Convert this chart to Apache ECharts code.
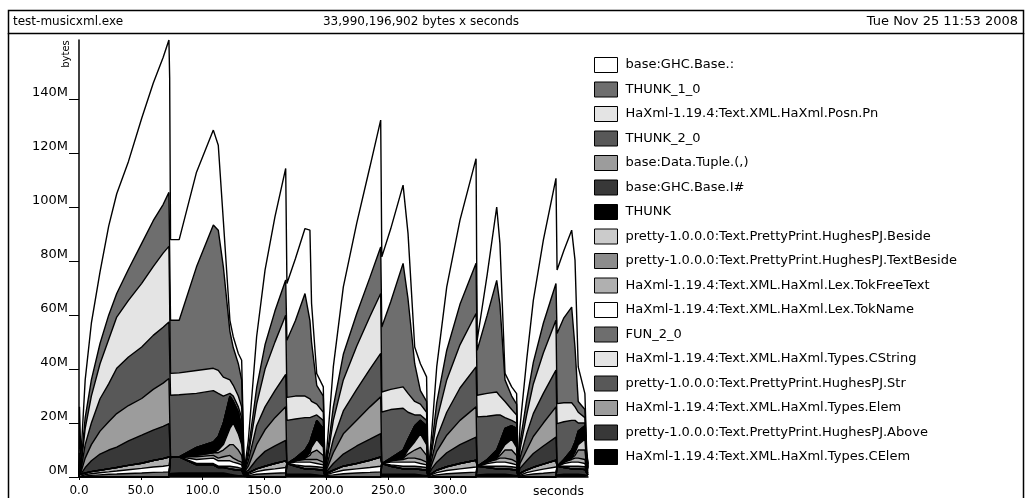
<!DOCTYPE html>
<html>
<head>
<meta charset="utf-8">
<script src="https://cdn.jsdelivr.net/npm/echarts@6/dist/echarts.min.js"></script>
<style>
html,body{margin:0;padding:0;background:#fff;}
#c{width:1031px;height:498px;}
</style>
</head>
<body>
<div id="c"></div>
<script>
// sample times (seconds)
const times = [0, 0.4, 1.5, 5, 10, 17, 24, 30.5, 40, 50.7, 60, 68, 72.7, 73.3,
  74, 81, 95, 108.6, 112.6, 116.7, 122, 124.7, 128.8, 131.5, 133.6,
  136.9, 143.6, 150.4, 158.4, 167.1,
  168.1, 175, 182.7, 186.7, 188, 192.2, 197.5, 198.9,
  199.8, 205.6, 213.7, 224.5, 235.2, 243.9,
  244.8, 252, 262, 266, 271.4, 276, 281, 282.3,
  285.1, 289.2, 297.3, 308, 321,
  321.9, 330, 337.7, 340.3, 344.4, 349.8, 353.8, 355.1,
  356.5, 361.9, 367.3, 375.4, 385.6,
  386.5, 392, 398.3, 401, 403.6, 409, 410.4, 411.5];

// band sizes in millions of bytes, one array per cost centre
const ghcBaseCons = [0, 17, 2.8, 14, 21, 26.5, 33, 37, 40, 46.4, 51, 54.5, 56.5, 42.5,
  29.9, 29.9, 35.1, 35.2, 31.5, 17.1, 4.1, 4, 3.8, 7.3, 0.2,
  3.6, 19, 27.7, 34.9, 41.4,
  21, 23, 24.1, 33.5, 14.4, 4.3, 3.4, 0.1,
  0.2, 14.8, 25, 33.5, 41, 47,
  26, 27, 29, 24.3, 6.2, 10, 9.1, 0.1,
  4.6, 13.3, 23.5, 31.2, 38.8,
  3.7, 15, 27.2, 22.6, 2.4, 3.4, 3.9, 0.3,
  6, 14.8, 23, 30.8, 39,
  23.5, 25, 28.5, 32.4, 12.8, 5.9, 0.9, 0.2];
const thunk10 = [0, 3, 1, 4, 6, 7.5, 9, 8.7, 11.5, 14.8, 17, 18, 20, 20,
  19.7, 19.5, 38.4, 53.1, 52, 40.9, 18, 14, 12, 10, 0.1,
  2, 6, 9, 11.5, 13,
  21.2, 28, 38, 29, 22, 7, 6, 0.1,
  0.3, 5, 9.5, 12, 14.5, 17.3,
  24.1, 32.5, 45.8, 35, 14, 5, 4, 0.05,
  2.5, 6.5, 11, 15, 18.6,
  16.7, 29, 41.4, 34, 8, 5, 4, 0.05,
  2.5, 5.5, 8, 11, 13.6,
  26, 31.5, 35.5, 22, 4, 3, 1, 0.4];
const posnPn = [0, 1.5, 0.8, 6, 10, 13, 16.5, 19, 21, 23.6, 25.5, 27.5, 28, 28,
  8.1, 8.1, 8.5, 8.3, 8.5, 7, 5, 4, 4, 4, 0.1,
  2, 8, 14, 18, 22,
  8.5, 8.5, 8, 7, 6, 4, 3, 0.1,
  0.3, 7, 11.5, 16, 19.5, 22.2,
  7.4, 7.5, 7.9, 7, 5, 4, 3, 0.05,
  2.5, 6.5, 12, 16, 19.8,
  8, 8.5, 8.5, 7, 6, 4, 3, 0.05,
  3, 7, 11, 15, 18.5,
  7.4, 7, 6.5, 5, 4, 2, 1, 0.4];
const thunk20 = [0, 1.5, 0.8, 5, 8, 12, 14, 16.8, 18, 19.1, 20, 20.7, 21, 21,
  22.9, 23, 20, 19, 16, 10, 1, 2, 2, 4, 0.1,
  2, 7, 8.5, 10, 12,
  16, 14.5, 12, 9, 7, 2, 3, 0.1,
  0.2, 5, 8.5, 11.5, 14, 16.1,
  19.1, 18, 15.5, 10, 4, 2, 2, 0.1,
  2, 5, 8.5, 12, 14.8,
  18.3, 16, 13, 10, 4, 2, 2, 0.1,
  2, 6, 8.5, 11, 13.6,
  15.8, 14, 11, 8, 3, 1, 1, 0.5];
const tuple = [0, 1, 0.6, 3.5, 6, 8.5, 10.5, 12.4, 13.1, 13.6, 15.1, 16, 16.7, 16.7,
  0, 0, 0, 0, 0, 0, 0, 0, 0, 0, 0,
  1.5, 5.5, 8, 10.5, 12.4,
  0, 0, 0, 0, 0, 0, 0, 0,
  0.2, 4, 7.5, 9.5, 12, 13.6,
  0, 0, 0, 0, 0, 0, 0, 0,
  1.5, 4, 6.5, 9, 11.2,
  0, 0, 0, 0, 0, 0, 0, 0,
  1.8, 4, 6.3, 8.5, 11.2,
  0, 0, 0, 0, 0, 0, 0, 0];
const intHash = [0, 1.1, 0.4, 2, 4, 6, 7, 7.6, 9.1, 10.4, 11.3, 12, 12.4, 12.4,
  0, 0, 0, 0, 0, 0, 0, 0, 0, 0, 0,
  1, 3.5, 5.5, 6.5, 7.6,
  0, 0, 0, 0, 0, 0, 0, 0,
  0.2, 2.5, 4.5, 6.5, 7.8, 8.7,
  0, 0, 0, 0, 0, 0, 0, 0,
  1.7, 3, 5.2, 7, 8.6,
  0, 0, 0, 0, 0, 0, 0, 0,
  1.8, 3.4, 5.1, 6.7, 8.6,
  0, 0, 0, 0, 0, 0, 0, 0];
const thunk = [0, 0, 0, 0, 0, 0, 0, 0, 0, 0, 0, 0, 0, 0,
  0, 0, 3, 4, 5, 8, 12, 8, 8, 6, 0.3,
  0, 0, 0, 0, 0,
  0, 1, 3, 4, 4, 7, 7, 0.1,
  0, 0, 0, 0, 0, 0,
  0, 1, 3, 4, 6, 5, 7, 0.1,
  0, 0, 0, 0, 0,
  0, 1, 3, 4, 6, 5, 7, 0.1,
  0, 0, 0, 0, 0,
  0, 1, 3, 4, 5, 5, 1, 0.6];
const beside = [0, 0, 0, 0, 0, 0, 0, 0, 0, 0, 0, 0, 0, 0,
  0, 0, 0, 0, 1, 2, 6, 8, 6, 4, 0.2,
  0, 0, 0, 0, 0,
  0, 0, 0, 1, 2, 4, 3, 0.1,
  0, 0, 0, 0, 0, 0,
  0, 0, 0, 1.5, 3, 5, 4, 0.1,
  0, 0, 0, 0, 0,
  0, 0, 0, 1, 2, 4, 3, 0.1,
  0, 0, 0, 0, 0,
  0, 0, 0, 1, 2, 4, 1, 0.6];
const textBeside = [0, 0, 0, 0, 0, 0, 0, 0, 0, 0, 0, 0, 0, 0,
  0, 0, 0.5, 1, 2, 2.5, 4, 5, 4, 2.5, 0.2,
  0, 0, 0, 0, 0,
  0, 0, 0.5, 1.5, 2, 3.5, 2.5, 0.2,
  0, 0, 0, 0, 0, 0,
  0, 0, 0.5, 1.5, 3, 4.5, 2.5, 0.1,
  0, 0, 0, 0, 0,
  0, 0, 0.5, 1, 3, 3.5, 2.5, 0.1,
  0, 0, 0, 0, 0,
  0, 0, 0.5, 1, 3, 3.5, 1, 0.6];
const tokFreeText = [0, 0.3, 0.2, 0.6, 0.8, 0.9, 1.1, 1.3, 1.6, 1.9, 2.4, 2.8, 3.1, 3.1,
  0, 0, 1, 1, 1, 1.5, 2, 1.5, 1, 1, 0.2,
  0.5, 1, 1.4, 2, 2.5,
  0, 0.5, 1, 1, 1.5, 1.5, 1, 0.2,
  0.2, 0.9, 1.5, 2, 2.7, 3.4,
  0, 0.5, 1, 1.5, 1.5, 1.5, 1, 0.1,
  0.4, 0.9, 1.4, 2, 2.5,
  0, 0.5, 1, 1.5, 1.5, 1.5, 1, 0.1,
  0.5, 1, 1.4, 1.9, 2.5,
  0, 0.5, 1, 1.5, 1.5, 1.5, 0.5, 0.3];
const tokName = [0, 0.3, 0.2, 0.5, 0.6, 0.8, 0.9, 1.1, 1.4, 1.7, 2, 2.2, 2.4, 2.4,
  0, 0, 1.5, 2, 2, 2, 2, 1.7, 1.5, 1.3, 0.2,
  0.5, 1, 1.4, 1.6, 1.9,
  0, 1, 1.5, 1.5, 1.5, 1.2, 1, 0.2,
  0.2, 0.8, 1.3, 1.5, 1.8, 2.1,
  0, 1, 1.5, 1.5, 1.5, 1.2, 1, 0.1,
  0.5, 0.8, 1.2, 1.5, 1.9,
  0, 1, 1.5, 1.5, 1.5, 1.2, 1, 0.1,
  0.5, 0.8, 1.1, 1.5, 1.9,
  0, 1, 1.5, 1.5, 1.5, 1.2, 0.5, 0.3];
const fun20 = [0, 0.3, 0.2, 0.4, 0.6, 0.8, 1, 1.1, 1.3, 1.5, 1.7, 1.8, 1.9, 1.9,
  0, 0, 0.5, 0.5, 0.5, 0.5, 1, 1, 1, 0.7, 0.2,
  0.5, 1, 1.2, 1.4, 1.6,
  0, 0.5, 1, 1, 1, 1, 1, 0.2,
  0.2, 0.8, 1.2, 1.5, 1.7, 1.9,
  0, 0.5, 1, 1, 1, 1, 1, 0.1,
  0.4, 0.8, 1.2, 1.5, 1.8,
  0, 0.5, 1, 1, 1, 1, 1, 0.1,
  0.4, 0.8, 1.1, 1.4, 1.8,
  0, 0.5, 1, 1, 1, 1, 0.5, 0.3];
const cString = [0, 0, 0, 0, 0, 0, 0, 0, 0, 0, 0, 0, 0, 0,
  0, 0, 0, 0, 0, 0, 0, 0, 0, 0, 0,
  0, 0, 0, 0, 0,
  0, 0, 0, 0, 0, 0, 0, 0,
  0, 0, 0, 0, 0, 0,
  0, 0, 0, 0, 0, 0, 0, 0,
  0, 0, 0, 0, 0,
  0, 0, 0, 0, 0, 0, 0, 0,
  0, 0, 0, 0, 0,
  0, 0, 0, 0, 0, 0, 0, 0];
const str = cString.slice();
const elem = cString.slice();
const above = [0, 0, 0, 0, 0, 0, 0, 0, 0, 0, 0, 0, 0, 0,
  6.1, 6, 3, 3, 2, 2, 2, 2, 2, 2, 0.2,
  0, 0, 0, 0, 0,
  4, 3, 2, 2, 2, 2, 2, 0.1,
  0, 0, 0, 0, 0, 0,
  4, 3, 2, 2, 2, 2, 2, 0,
  0, 0, 0, 0, 0,
  3.2, 2.5, 2, 2, 2, 2, 2, 0,
  0, 0, 0, 0, 0,
  3.2, 2.5, 2, 2, 2, 2, 1, 0.5];
const cElem = [0, 0, 0, 0, 0, 0, 0, 0, 0, 0, 0, 0, 0, 0,
  1.3, 1.5, 1.5, 1.5, 1.5, 1.5, 1, 0.8, 0.5, 0.5, 0.2,
  0, 0, 0, 0, 0,
  1, 1, 1, 1, 1, 0.8, 0.5, 0.2,
  0, 0, 0, 0, 0, 0,
  1, 1, 1, 1, 1, 0.8, 0.5, 0.1,
  0, 0, 0, 0, 0,
  0.8, 1, 1, 1, 1, 0.8, 0.5, 0.1,
  0, 0, 0, 0, 0,
  0.8, 1, 1, 1, 1, 0.8, 0.5, 0.3];

// legend order (top band first)
const bandNames = ['base:GHC.Base.:', 'THUNK_1_0', 'HaXml-1.19.4:Text.XML.HaXml.Posn.Pn', 'THUNK_2_0',
  'base:Data.Tuple.(,)', 'base:GHC.Base.I#', 'THUNK', 'pretty-1.0.0.0:Text.PrettyPrint.HughesPJ.Beside',
  'pretty-1.0.0.0:Text.PrettyPrint.HughesPJ.TextBeside', 'HaXml-1.19.4:Text.XML.HaXml.Lex.TokFreeText',
  'HaXml-1.19.4:Text.XML.HaXml.Lex.TokName', 'FUN_2_0', 'HaXml-1.19.4:Text.XML.HaXml.Types.CString',
  'pretty-1.0.0.0:Text.PrettyPrint.HughesPJ.Str', 'HaXml-1.19.4:Text.XML.HaXml.Types.Elem',
  'pretty-1.0.0.0:Text.PrettyPrint.HughesPJ.Above', 'HaXml-1.19.4:Text.XML.HaXml.Types.CElem'];
const bandValues = [ghcBaseCons, thunk10, posnPn, thunk20, tuple, intHash, thunk, beside, textBeside,
  tokFreeText, tokName, fun20, cString, str, elem, above, cElem];
const bandColors = ['#ffffff', '#6e6e6e', '#e4e4e4', '#585858', '#9c9c9c', '#383838', '#000000', '#cbcbcb',
  '#8c8c8c', '#b0b0b0', '#ffffff', '#6e6e6e', '#e4e4e4', '#585858', '#9c9c9c', '#383838', '#000000'];
const yTicks = [0, 20, 40, 60, 80, 100, 120, 140];
const xTicks = [0, 50, 100, 150, 200, 250, 300];

// cumulative tops of each band (stacked from the last band upwards)
const n = bandNames.length;
const cum = new Array(n);
for (let k = n - 1; k >= 0; k--) {
  cum[k] = times.map((t, i) => (k === n - 1 ? 0 : cum[k + 1][i]) + bandValues[k][i]);
}

const FONT = 'DejaVu Sans';
// topmost band drawn first; each lower band's area paints over it
const series = bandNames.map((name, k) => ({
  name: name, type: 'line', symbol: 'none', silent: true,
  lineStyle: {color: '#000', width: 1.4},
  itemStyle: {color: bandColors[k]},
  areaStyle: {color: bandColors[k], opacity: 1, origin: 'start'},
  emphasis: {disabled: true},
  data: times.map((t, i) => [t, cum[k][i]])
}));

const chart = echarts.init(document.getElementById('c'), null, {renderer: 'canvas'});
chart.setOption({
  animation: false,
  backgroundColor: '#fff',
  grid: {left: 79, right: 443, top: 40, bottom: 21, containLabel: false},
  xAxis: {
    type: 'value', min: 0, max: 411.5, interval: 50,
    axisLine: {lineStyle: {color: '#000', width: 1.5}},
    axisTick: {show: true, length: 3, lineStyle: {color: '#000'}, customValues: xTicks},
    axisLabel: {customValues: xTicks, margin: 8, color: '#000', fontFamily: FONT, fontSize: 12,
      formatter: v => v.toFixed(1)},
    splitLine: {show: false},
    name: 'seconds', nameLocation: 'end', nameGap: -4,
    nameTextStyle: {align: 'right', verticalAlign: 'top', padding: [8, 0, 0, 0], color: '#000', fontFamily: FONT, fontSize: 12.5}
  },
  yAxis: {
    type: 'value', min: 0, max: 162, interval: 20,
    axisLine: {show: true, lineStyle: {color: '#000', width: 1.5}},
    axisTick: {show: true, length: 10, lineStyle: {color: '#000'}, customValues: yTicks},
    axisLabel: {customValues: yTicks, margin: 11, verticalAlign: 'bottom', color: '#000', fontFamily: FONT, fontSize: 13,
      formatter: v => v + 'M'},
    splitLine: {show: false}
  },
  legend: {
    orient: 'vertical', left: 594, top: 57, padding: 0, icon: 'rect', itemWidth: 23, itemHeight: 15, itemGap: 8.5,
    selectedMode: false, data: bandNames,
    itemStyle: {borderColor: '#000', borderWidth: 1},
    textStyle: {color: '#000', fontFamily: FONT, fontSize: 13, lineHeight: 15, padding: [0, 0, 0, 3]}
  },
  graphic: [
    {type: 'rect', shape: {x: 8.5, y: 10.5, width: 1015, height: 23}, style: {fill: 'none', stroke: '#000', lineWidth: 1.5}},
    {type: 'line', shape: {x1: 8.5, y1: 33, x2: 8.5, y2: 498}, style: {stroke: '#000', lineWidth: 1.5}},
    {type: 'line', shape: {x1: 1023.5, y1: 33, x2: 1023.5, y2: 498}, style: {stroke: '#000', lineWidth: 1.5}},
    {type: 'text', x: 13, y: 22, style: {text: 'test-musicxml.exe', fill: '#000', font: '12px "DejaVu Sans"', align: 'left', verticalAlign: 'middle'}},
    {type: 'text', x: 421, y: 22, style: {text: '33,990,196,902 bytes x seconds', fill: '#000', font: '12px "DejaVu Sans"', align: 'center', verticalAlign: 'middle'}},
    {type: 'text', x: 1018, y: 22, style: {text: 'Tue Nov 25 11:53 2008', fill: '#000', font: '13px "DejaVu Sans"', align: 'right', verticalAlign: 'middle'}},
    {type: 'text', x: 66, y: 54, rotation: Math.PI / 2, style: {text: 'bytes', fill: '#000', font: '10px "DejaVu Sans"', align: 'center', verticalAlign: 'middle'}}
  ],
  series: series
});
</script>
</body>
</html>
